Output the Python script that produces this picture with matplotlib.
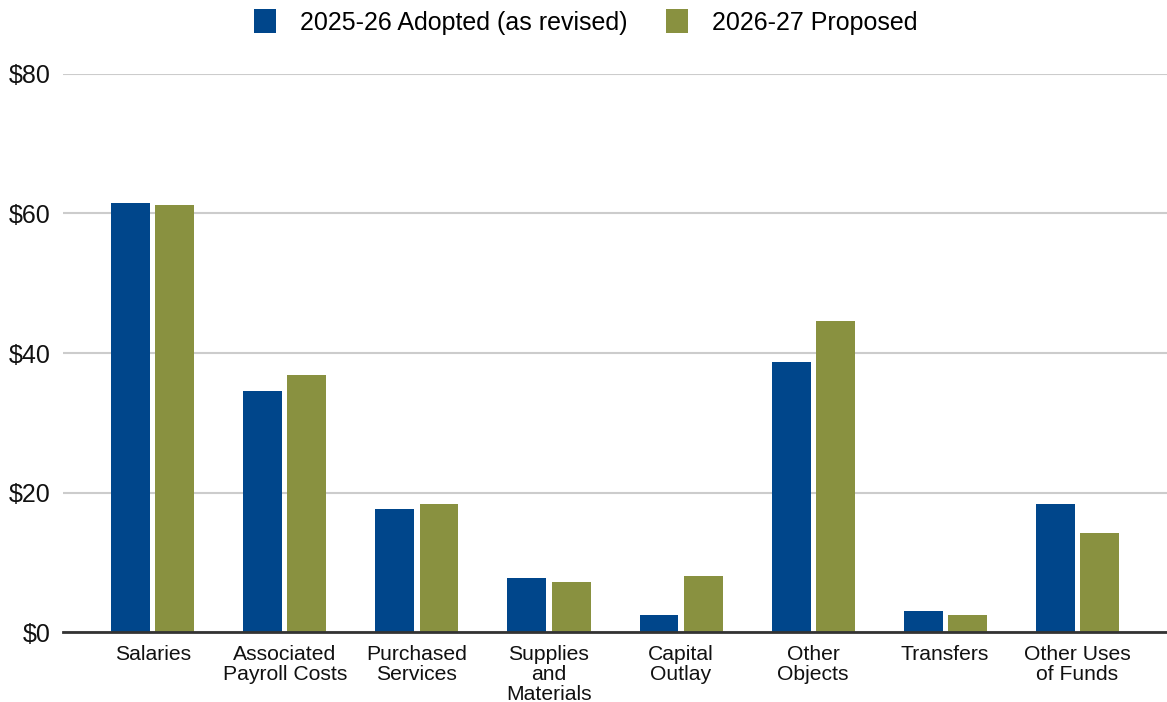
import numpy as np
import matplotlib.pyplot as plt

plt.rcParams['font.family'] = ['Liberation Sans', 'DejaVu Sans']

# Expenditures by object, $ millions
categories = ['Salaries', 'Associated\nPayroll Costs', 'Purchased\nServices',
              'Supplies\nand\nMaterials', 'Capital\nOutlay', 'Other\nObjects',
              'Transfers', 'Other Uses\nof Funds']
adopted_2526 = [61.5, 34.5, 17.7, 7.8, 2.4, 38.7, 3.0, 18.3]
proposed_2627 = [61.2, 36.9, 18.3, 7.2, 8.1, 44.6, 2.5, 14.2]
series_names = ['2025-26 Adopted (as revised)', '2026-27 Proposed']
y_ticks = [0, 20, 40, 60, 80]

blue = '#00468b'
green = '#899140'

fig = plt.figure(figsize=(11.67, 7.02), dpi=100)
ax = fig.add_axes([0.054, 0.0997, 0.946, 0.7949])

x = np.arange(len(categories))
w = 0.295
off = 0.167
ax.bar(x - off, adopted_2526, w, color=blue, label=series_names[0], zorder=3)
ax.bar(x + off, proposed_2627, w, color=green, label=series_names[1], zorder=3)

ax.set_xlim(-0.68, len(categories) - 1 + 0.68)
ax.set_ylim(0, 80)
ax.set_yticks(y_ticks)
ax.set_yticklabels([f'${v}' for v in y_ticks], fontsize=18, color='#111111')
ax.yaxis.grid(True, color='#cccccc', linewidth=1.5, zorder=0)
ax.set_xticks(x)
ax.set_xticklabels(categories, fontsize=15.2, color='#111111', linespacing=1.08)
ax.tick_params(axis='x', length=0, pad=9)
ax.tick_params(axis='y', length=0, pad=9)

for side in ['top', 'right', 'left']:
    ax.spines[side].set_visible(False)
ax.spines['bottom'].set_color('#333333')
ax.spines['bottom'].set_linewidth(2)
ax.spines['bottom'].set_zorder(4)

fig.legend(loc='center', bbox_to_anchor=(0.502, 1 - 22 / 702), ncol=2,
           frameon=False, fontsize=18, handlelength=0.88, handleheight=1.05,
           handletextpad=0.96, columnspacing=1.56)

fig.savefig('out.png', dpi=100)
